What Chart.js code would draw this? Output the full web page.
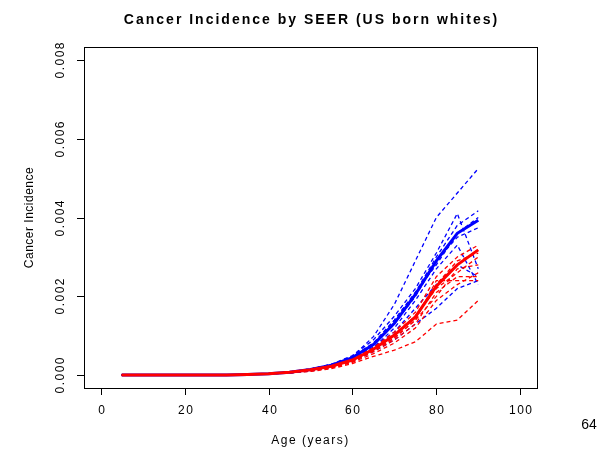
<!DOCTYPE html>
<html>
<head>
<meta charset="utf-8">
<script src="https://cdn.jsdelivr.net/npm/chart.js@4"></script>
<style>
  html, body { margin: 0; padding: 0; background: #fff; }
  #wrap { width: 601px; height: 449px; position: relative; }
</style>
</head>
<body>
<div id="wrap"><canvas id="c" width="601" height="449"></canvas></div>
<script>
// Age groups (midpoints of 5-year bands)
const ages = [5, 10, 15, 20, 25, 30, 35, 40, 45, 50, 55, 60, 65, 70, 75, 80, 85, 90];

// Shared values for the youngest age groups (5..40)
const young = [0.00001, 0.00001, 0.00001, 0.00001, 0.00001, 0.00001, 0.00002, 0.00004];

// Pooled incidence curves
const bluePooled = young.concat([0.00008, 0.00015, 0.00026, 0.00045, 0.00078, 0.00132, 0.00205, 0.00290, 0.00360, 0.00393]);
const redPooled  = young.concat([0.00008, 0.00014, 0.00023, 0.00039, 0.00066, 0.00102, 0.00148, 0.00226, 0.00280, 0.00318]);

// Individual registry curves (ages 45..90)
const blueReg1 = young.concat([0.00009, 0.00016, 0.00028, 0.00048, 0.00098, 0.00180, 0.00290, 0.00400, 0.00462, 0.00524]);
const blueReg2 = young.concat([0.00008, 0.00016, 0.00028, 0.00050, 0.00090, 0.00150, 0.00220, 0.00310, 0.00410, 0.00270]);
const blueReg3 = young.concat([0.00009, 0.00016, 0.00027, 0.00046, 0.00080, 0.00140, 0.00210, 0.00300, 0.00380, 0.00417]);
const blueReg4 = young.concat([0.00008, 0.00014, 0.00025, 0.00044, 0.00076, 0.00130, 0.00200, 0.00290, 0.00350, 0.00374]);
const blueReg5 = young.concat([0.00007, 0.00013, 0.00023, 0.00040, 0.00070, 0.00120, 0.00190, 0.00270, 0.00330, 0.00230]);
const blueReg6 = young.concat([0.00008, 0.00015, 0.00026, 0.00048, 0.00082, 0.00140, 0.00210, 0.00280, 0.00360, 0.00400]);
const blueReg7 = young.concat([0.00006, 0.00011, 0.00020, 0.00035, 0.00060, 0.00090, 0.00130, 0.00170, 0.00220, 0.00240]);
const blueReg8 = young.concat([0.00007, 0.00013, 0.00024, 0.00042, 0.00072, 0.00110, 0.00170, 0.00230, 0.00280, 0.00250]);

const redReg1 = young.concat([0.00008, 0.00015, 0.00025, 0.00042, 0.00070, 0.00110, 0.00160, 0.00250, 0.00300, 0.00330]);
const redReg2 = young.concat([0.00008, 0.00014, 0.00024, 0.00040, 0.00068, 0.00105, 0.00150, 0.00230, 0.00290, 0.00310]);
const redReg3 = young.concat([0.00007, 0.00013, 0.00022, 0.00038, 0.00064, 0.00100, 0.00150, 0.00220, 0.00260, 0.00300]);
const redReg4 = young.concat([0.00007, 0.00012, 0.00020, 0.00035, 0.00060, 0.00090, 0.00130, 0.00210, 0.00250, 0.00250]);
const redReg5 = young.concat([0.00007, 0.00012, 0.00021, 0.00036, 0.00062, 0.00095, 0.00140, 0.00240, 0.00240, 0.00240]);
const redReg6 = young.concat([0.00006, 0.00010, 0.00017, 0.00030, 0.00048, 0.00064, 0.00085, 0.00130, 0.00140, 0.00190]);
const redReg7 = young.concat([0.00007, 0.00013, 0.00022, 0.00038, 0.00062, 0.00095, 0.00140, 0.00200, 0.00270, 0.00280]);
const redReg8 = young.concat([0.00006, 0.00011, 0.00019, 0.00033, 0.00055, 0.00082, 0.00120, 0.00190, 0.00230, 0.00260]);

const blueRegs = [blueReg1, blueReg2, blueReg3, blueReg4, blueReg5, blueReg6, blueReg7, blueReg8];
const redRegs  = [redReg1, redReg2, redReg3, redReg4, redReg5, redReg6, redReg7, redReg8];

// Axis ticks
const xTicks = [0, 20, 40, 60, 80, 100];
const yTicks = [0, 0.002, 0.004, 0.006, 0.008];
const yTickLabels = ['0.000', '0.002', '0.004', '0.006', '0.008'];

const titleText = 'Cancer Incidence by SEER (US born whites)';
const xTitle = 'Age (years)';
const yTitle = 'Cancer Incidence';
const pageNo = '64';

const BLUE = '#0000ff';
const RED = '#ff0000';
const FONT = '"Liberation Sans", Arial, Helvetica, sans-serif';

function pts(vals) { return ages.map((a, i) => ({ x: a, y: vals[i] })); }

function dashed(vals, color, order) {
  return { data: pts(vals), borderColor: color, borderWidth: 1.3, borderDash: [4, 3],
           pointRadius: 0, tension: 0, fill: false, order: order };
}

const datasets = [
  { data: pts(redPooled), borderColor: RED, borderWidth: 3, pointRadius: 0, tension: 0, fill: false, order: 0 },
  { data: pts(bluePooled), borderColor: BLUE, borderWidth: 3, pointRadius: 0, tension: 0, fill: false, order: 1 },
]
  .concat(redRegs.map(v => dashed(v, RED, 2)))
  .concat(blueRegs.map(v => dashed(v, BLUE, 3)));

// Base-graphics style frame, ticks and text drawn over the chart
const frame = {
  id: 'frame',
  afterDraw(chart) {
    const ctx = chart.ctx;
    const a = chart.chartArea;
    const xs = chart.scales.x, ys = chart.scales.y;
    ctx.save();
    ctx.strokeStyle = '#000';
    ctx.lineWidth = 1;
    ctx.strokeRect(Math.round(a.left) + 0.5, Math.round(a.top) + 0.5,
                   Math.round(a.right - a.left), Math.round(a.bottom - a.top));

    ctx.fillStyle = '#000';
    ctx.font = '12px ' + FONT;
    ctx.letterSpacing = '1.5px';
    ctx.textAlign = 'center';
    ctx.textBaseline = 'middle';

    // x axis
    xTicks.forEach(v => {
      const px = Math.round(xs.getPixelForValue(v)) + 0.5;
      ctx.beginPath();
      ctx.moveTo(px, a.bottom);
      ctx.lineTo(px, a.bottom + 7);
      ctx.stroke();
      ctx.fillText(String(v), px + 0.75, a.bottom + 23);
    });

    // y axis, labels rotated
    yTicks.forEach((v, i) => {
      const py = Math.round(ys.getPixelForValue(v)) + 0.5;
      ctx.beginPath();
      ctx.moveTo(a.left, py);
      ctx.lineTo(a.left - 7, py);
      ctx.stroke();
      ctx.save();
      ctx.translate(a.left - 23, py);
      ctx.rotate(-Math.PI / 2);
      ctx.fillText(yTickLabels[i], 0.75, 0);
      ctx.restore();
    });

    // axis titles
    ctx.fillText(xTitle, (a.left + a.right) / 2, 441);
    ctx.save();
    ctx.translate(30, (a.top + a.bottom) / 2);
    ctx.rotate(-Math.PI / 2);
    ctx.letterSpacing = '0.5px';
    ctx.fillText(yTitle, 0, 0);
    ctx.restore();

    // main title
    ctx.font = 'bold 14px ' + FONT;
    ctx.letterSpacing = '2px';
    ctx.fillText(titleText, (a.left + a.right) / 2 + 1, 20);

    // page number
    ctx.font = '14px ' + FONT;
    ctx.letterSpacing = '0px';
    ctx.fillText(pageNo, 589, 425);
    ctx.restore();
  }
};

new Chart(document.getElementById('c'), {
  type: 'line',
  data: { datasets: datasets },
  options: {
    responsive: false,
    animation: false,
    events: [],
    layout: { padding: { left: 84, top: 47, right: 64, bottom: 61 } },
    plugins: { legend: { display: false }, tooltip: { enabled: false }, title: { display: false } },
    scales: {
      x: { type: 'linear', min: -4, max: 104, display: false },
      y: { type: 'linear', min: -0.00032, max: 0.00832, display: false }
    }
  },
  plugins: [frame]
});
</script>
</body>
</html>
